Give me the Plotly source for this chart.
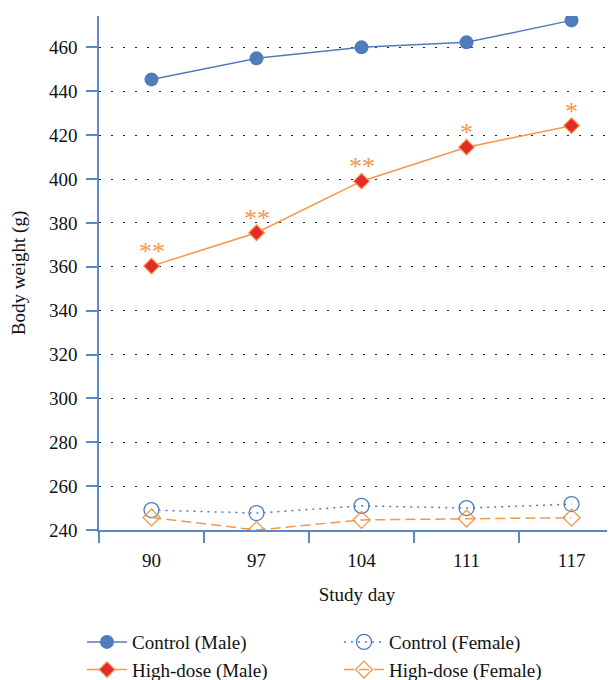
import plotly.graph_objects as go

days = ["90", "97", "104", "111", "117"]
control_male = [445.4, 455.0, 460.0, 462.3, 472.3]
high_dose_male = [360.3, 375.5, 399.0, 414.5, 424.3]
control_female = [249.1, 247.7, 251.0, 250.0, 251.8]
high_dose_female = [245.7, 240.0, 244.6, 245.2, 245.6]
significance = ["**", "**", "**", "*", "*"]

BLUE = "#4f7dbb"
ORANGE = "#f5964a"
RED = "#e52a2a"
AXIS = "#5b89c6"
FONT = "Liberation Serif"

fig = go.Figure()
fig.add_trace(go.Scatter(
    x=days, y=control_male, name="Control (Male)", mode="lines+markers",
    line=dict(color=BLUE, width=1.5),
    marker=dict(symbol="circle", size=14, color=BLUE),
))
fig.add_trace(go.Scatter(
    x=days, y=control_female, name="Control (Female)", mode="lines+markers",
    line=dict(color=BLUE, width=1.5, dash="2px,5px"),
    marker=dict(symbol="circle-open", size=15, color=BLUE, line=dict(width=1.3)),
))
fig.add_trace(go.Scatter(
    x=days, y=high_dose_male, name="High-dose (Male)", mode="lines+markers",
    line=dict(color=ORANGE, width=1.5),
    marker=dict(symbol="diamond", size=12, color=RED, line=dict(color=ORANGE, width=1.2)),
))
fig.add_trace(go.Scatter(
    x=days, y=high_dose_female, name="High-dose (Female)", mode="lines+markers",
    line=dict(color=ORANGE, width=1.5, dash="10px,5px"),
    marker=dict(symbol="diamond-open", size=13, color=ORANGE, line=dict(width=1.3)),
))

# significance marks above the high-dose (male) points, placed by category index
for i, (v, s) in enumerate(zip(high_dose_male, significance)):
    fig.add_annotation(
        x=i, y=v, xref="x", yref="y", text=s, showarrow=False,
        xanchor="center", yanchor="bottom",
        yshift=-2, font=dict(family=FONT, size=26, color=ORANGE),
    )

fig.update_layout(
    width=615, height=700,
    margin=dict(l=91, r=8, t=8, b=178),
    paper_bgcolor="white", plot_bgcolor="white",
    font=dict(family=FONT, size=19, color="#111"),
    showlegend=True,
    legend=dict(
        orientation="h", x=-0.033, xanchor="left", y=-0.181, yanchor="top",
        entrywidth=202, entrywidthmode="pixels", itemwidth=40,
        font=dict(family=FONT, size=19), tracegroupgap=0,
        traceorder="normal",
    ),
)
fig.update_xaxes(
    type="category", range=[-0.5, 4.414], automargin=False,
    showline=True, linecolor=AXIS, linewidth=1.5,
    ticks="outside", tickson="boundaries", ticklen=11, tickcolor=AXIS, tickwidth=1.5,
    showgrid=False, zeroline=False, ticklabelstandoff=12,
    title=dict(text="Study day", standoff=18, font=dict(size=19)),
    tickfont=dict(size=19),
)
fig.update_yaxes(
    range=[240, 474.3], tickvals=[240, 260, 280, 300, 320, 340, 360, 380, 400, 420, 440, 460],
    automargin=False,
    showline=True, linecolor=AXIS, linewidth=1.5,
    ticks="outside", ticklen=11, tickcolor=AXIS, tickwidth=1.5,
    showgrid=True, gridcolor="#222", gridwidth=1.3, griddash="2px,10px",
    zeroline=False, ticklabelstandoff=5,
    title=dict(text="Body weight (g)", standoff=20, font=dict(size=19)),
    tickfont=dict(size=19),
)

fig.write_html("out.html")
